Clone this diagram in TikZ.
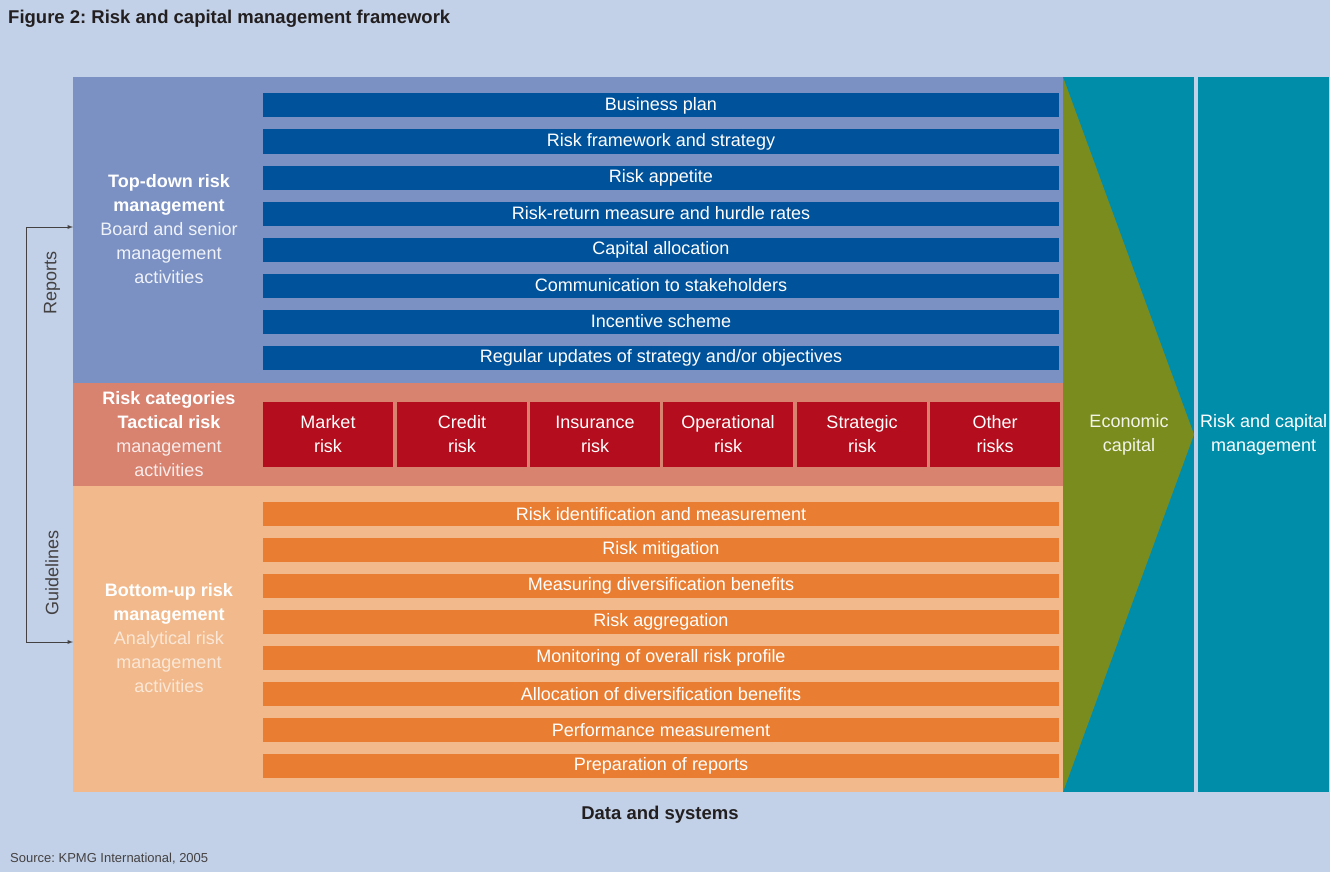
\documentclass[tikz,border=0pt]{standalone}
\usepackage{fontspec}
\setmainfont{Liberation Sans}
\usetikzlibrary{arrows}
\frenchspacing

\definecolor{bgblue}{RGB}{194,209,231}
\definecolor{topdownc}{RGB}{123,145,196}
\definecolor{barblue}{RGB}{0,82,155}
\definecolor{tacticalc}{RGB}{216,130,112}
\definecolor{riskred}{RGB}{180,13,29}
\definecolor{bottomupc}{RGB}{242,186,140}
\definecolor{barorange}{RGB}{233,126,50}
\definecolor{ecgreen}{RGB}{122,140,30}
\definecolor{rcmteal}{RGB}{0,141,169}
\definecolor{darktext}{RGB}{35,31,32}
\colorlet{tdlight}{white!88!topdownc}
\colorlet{tclight}{white!85!tacticalc}
\colorlet{bulight}{white!65!bottomupc}

\newcommand{\barfont}{\fontsize{18}{24}\selectfont}
\newcommand{\figheadfont}{\fontsize{18.5}{22}\selectfont\bfseries}
\newcommand{\notefont}{\fontsize{13}{16}\selectfont}

\tikzstyle{panel} = [anchor=north west, minimum width=990pt, inner sep=0pt, outer sep=0pt]
\tikzstyle{bar} = [minimum width=796pt, minimum height=24pt, inner sep=0pt, text=white, font=\barfont]
\tikzstyle{topbar} = [bar, fill=barblue]
\tikzstyle{lowbar} = [bar, fill=barorange]
\tikzstyle{riskbox} = [minimum width=130pt, minimum height=65pt, inner sep=0pt, fill=riskred, text=white, align=center, font=\barfont]
\tikzstyle{paneltext} = [align=center, inner sep=0pt, font=\barfont]
\tikzstyle{sidetext} = [rotate=90, inner sep=0pt, text=darktext!85, font=\barfont]
\tikzstyle{feedback} = [line width=0.9pt, darktext!85, <->, >=latex]

\begin{document}
\begin{tikzpicture}[x=1pt,y=-1pt]
        \useasboundingbox (0,0) rectangle (1330,872);
        \fill [bgblue] (0,0) rectangle (1330,872);

        %heading
        \node at (8,19) [anchor=west, inner sep=0pt, text=darktext, font=\figheadfont] (title) {Figure 2: Risk and capital management framework};

        %three layers
        \node at (73,77) [panel, minimum height=306pt, fill=topdownc] (topdown) {};
        \node at (73,383) [panel, minimum height=103pt, fill=tacticalc] (tactical) {};
        \node at (73,486) [panel, minimum height=306pt, fill=bottomupc] (bottomup) {};

        \node at (169,229) [paneltext, text=tdlight] (tdlabel) {\textcolor{white}{\textbf{Top-down risk}}\\\textcolor{white}{\textbf{management}}\\Board and senior\\management\\activities};
        \node at (169,434) [paneltext, text=tclight] (tclabel) {\textcolor{white}{\textbf{Risk categories}}\\\textcolor{white}{\textbf{Tactical risk}}\\management\\activities};
        \node at (169,638) [paneltext, text=bulight] (bulabel) {\textcolor{white}{\textbf{Bottom-up risk}}\\\textcolor{white}{\textbf{management}}\\Analytical risk\\management\\activities};

        %top-down activities
        \node at (661,105.5) [topbar] (td1) {Business plan};
        \node at (661,141.5) [topbar] (td2) {Risk framework and strategy};
        \node at (661,177.5) [topbar] (td3) {Risk appetite};
        \node at (661,213.5) [topbar] (td4) {Risk-return measure and hurdle rates};
        \node at (661,249.5) [topbar] (td5) {Capital allocation};
        \node at (661,285.5) [topbar] (td6) {Communication to stakeholders};
        \node at (661,321.5) [topbar] (td7) {Incentive scheme};
        \node at (661,357.5) [topbar] (td8) {Regular updates of strategy and/or objectives};

        %risk categories
        \node at (328,434.5) [riskbox] (rk1) {Market\\risk};
        \node at (462,434.5) [riskbox] (rk2) {Credit\\risk};
        \node at (595,434.5) [riskbox] (rk3) {Insurance\\risk};
        \node at (728,434.5) [riskbox] (rk4) {Operational\\risk};
        \node at (862,434.5) [riskbox] (rk5) {Strategic\\risk};
        \node at (995,434.5) [riskbox] (rk6) {Other\\risks};

        %bottom-up activities
        \node at (661,514) [lowbar] (bu1) {Risk identification and measurement};
        \node at (661,550) [lowbar] (bu2) {Risk mitigation};
        \node at (661,586) [lowbar] (bu3) {Measuring diversification benefits};
        \node at (661,622) [lowbar] (bu4) {Risk aggregation};
        \node at (661,658) [lowbar] (bu5) {Monitoring of overall risk profile};
        \node at (661,694) [lowbar] (bu6) {Allocation of diversification benefits};
        \node at (661,730) [lowbar] (bu7) {Performance measurement};
        \node at (661,766) [lowbar] (bu8) {Preparation of reports};

        %economic capital wedge
        \fill [rcmteal] (1063,77) rectangle (1194,792);
        \fill [ecgreen] (1063,77) -- (1194,434.5) -- (1063,792) -- cycle;
        \node at (1129,434.5) [paneltext, text=white!90!ecgreen] (ecap) {Economic\\capital};
        \node at (1198,77) [anchor=north west, minimum width=131pt, minimum height=715pt, inner sep=0pt, fill=rcmteal, text=white, align=center, font=\barfont] (rcm) {Risk and capital\\management};

        %reports and guidelines
        \coordinate (rep) at (26,227);
        \coordinate (gui) at (26,642);
        \draw [feedback] (rep -| topdown.west) -- (rep) -- (gui) -- (gui -| bottomup.west);
        \node at (52,283) [sidetext] (reports) {Reports};
        \node at (52,573) [sidetext] (guidelines) {Guidelines};

        %footer
        \node at (660,815) [inner sep=0pt, text=darktext, font=\figheadfont] (data) {Data and systems};
        \node at (10,859) [anchor=west, inner sep=0pt, text=darktext!85, font=\notefont] (source) {Source: KPMG International, 2005};

    \end{tikzpicture}
\end{document}
